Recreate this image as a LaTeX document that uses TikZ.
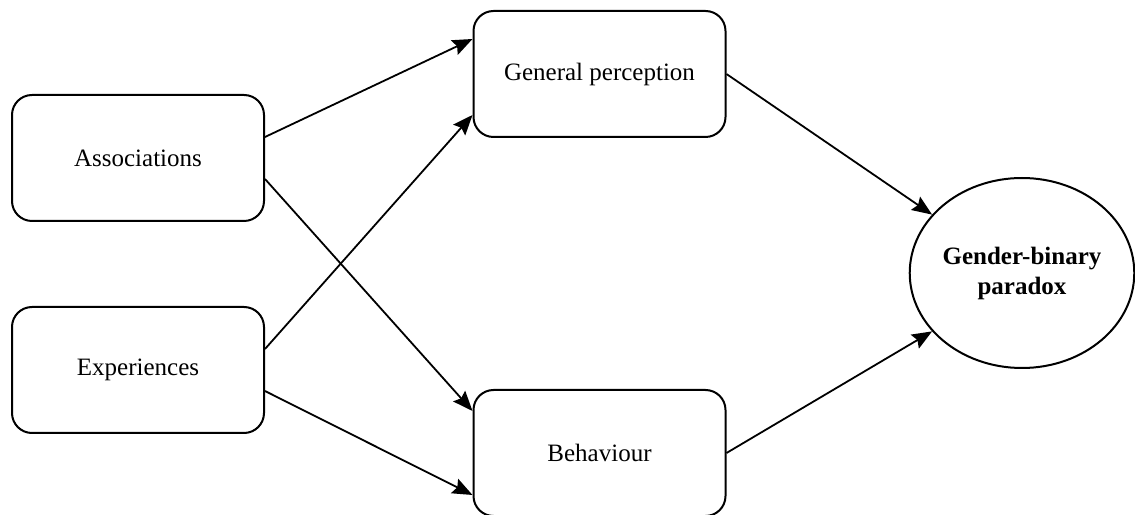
\documentclass[tikz,border=0pt]{standalone}
\usepackage{fontspec}
\setmainfont{Liberation Serif}
\usetikzlibrary{positioning,shapes.geometric,arrows.meta}

\begin{document}
\begin{tikzpicture}[x=0.5pt,y=0.5pt]
\tikzstyle{main}=[rectangle, rounded corners=10pt, draw=black, line width=1pt, minimum width=126pt, minimum height=63pt, inner sep=0pt, font=\fontsize{12.5}{15}\selectfont]
\tikzstyle{outcome}=[ellipse, draw=black, line width=1pt, minimum width=112pt, minimum height=95pt, inner sep=0pt, align=center, font=\fontsize{12.5}{15}\selectfont\bfseries]
\tikzstyle{connect}=[-{Stealth[length=10pt, width=8pt, inset=1.5pt]}, line width=0.9pt]
\useasboundingbox (0,0) rectangle (1135,514);
\node[main] (Assoc) at (138,356) {Associations};
\node[main] (Exper) [below=42pt of Assoc] {Experiences};
\node[main] (Percep) at (599.5,440) {General perception};
\node[main] (Behav) [below=125.5pt of Percep] {Behaviour};
\node[outcome] (Paradox) at (1022,241) {Gender-binary\\paradox};
  \path ([yshift=10.5pt]Assoc.east) edge [connect] ([yshift=17.5pt]Percep.west)
  	([yshift=-10.5pt]Assoc.east) edge [connect] ([yshift=21pt]Behav.west)
  	([yshift=10.5pt]Exper.east) edge [connect] ([yshift=-20.5pt]Percep.west)
  	([yshift=-10.5pt]Exper.east) edge [connect] ([yshift=-21pt]Behav.west)
  	(Percep.east) edge [connect] (Paradox.147)
  	(Behav.east) edge [connect] (Paradox.213);
\end{tikzpicture}
\end{document}
